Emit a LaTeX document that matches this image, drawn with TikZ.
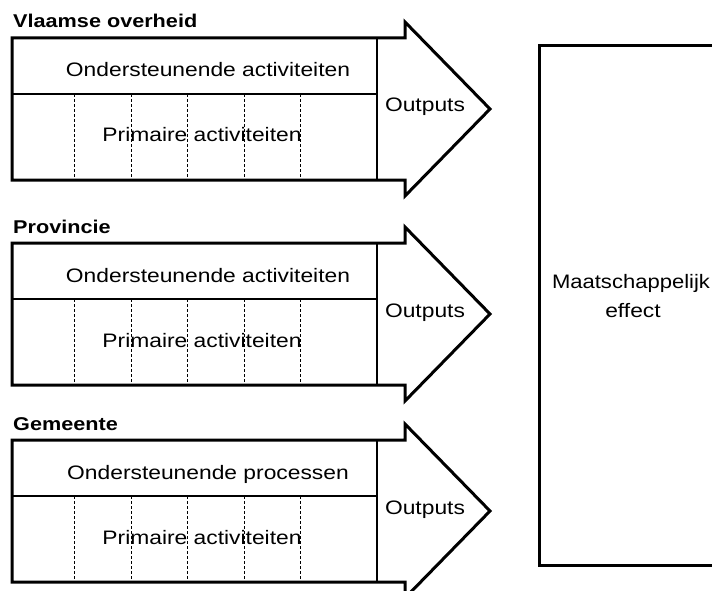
\documentclass[tikz,border=0pt]{standalone}
\usepackage{fontspec}
\setmainfont{Liberation Sans}
% slightly widened lettering
\newcommand{\wide}[1]{\scalebox{1.17}[1]{#1}}
\begin{document}
\begin{tikzpicture}[x=1pt,y=-1pt,
  outline/.style={line width=3pt,line join=miter},
  divider/.style={line width=1.8pt},
  lane/.style={line width=0.9pt,dash pattern=on 3pt off 2pt},
  label/.style={inner sep=0pt,anchor=base,font=\fontsize{19.5}{22}\selectfont},
  heading/.style={inner sep=0pt,anchor=base west,font=\fontsize{18.5}{22}\selectfont\bfseries}]
\useasboundingbox (0,0) rectangle (712,591);
\clip (0,0) rectangle (712,591);

% one value chain per level of government
\foreach \t/\title/\support/\i in {38/Vlaamse overheid/Ondersteunende activiteiten/a,
                                   243/Provincie/Ondersteunende activiteiten/b,
                                   440/Gemeente/Ondersteunende processen/c} {
  \draw[outline] (12,\t) -- (405,\t) -- (405,{\t-16}) -- (490,{\t+71})
        -- (405,{\t+158}) -- (405,{\t+142}) -- (12,{\t+142}) -- cycle;
  \draw[divider] (377,\t) -- (377,{\t+142});
  \draw[divider] (12,{\t+56}) -- (377,{\t+56});
  \foreach \x in {74,131,187,244,300}
    \draw[lane] (\x,{\t+56}) -- (\x,{\t+142});
  \node[heading] (title-\i) at (13,{\t-10}) {\wide{\title}};
  \node[label] (support-\i) at (208,{\t+39}) {\wide{\support}};
  \node[label] (primary-\i) at (202,{\t+104}) {\wide{Primaire activiteiten}};
  \node[label] (outputs-\i) at (425,{\t+74}) {\wide{Outputs}};
}

% societal effect
\draw[outline] (539,46) rectangle (727,565);
\node[label] (effect1) at (631,288) {\scalebox{1.13}[1]{Maatschappelijk}};
\node[label] (effect2) at (633,317) {\wide{effect}};
\end{tikzpicture}
\end{document}
